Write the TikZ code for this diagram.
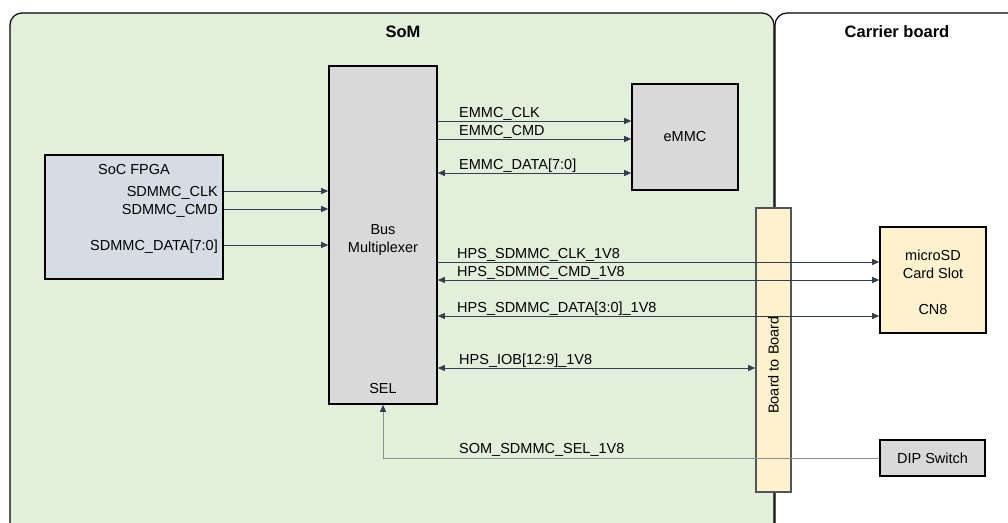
\documentclass[tikz,border=0pt]{standalone}
\usepackage{fontspec}
\setmainfont{Liberation Sans}
\usetikzlibrary{arrows.meta,positioning,calc}
\definecolor{somgreen}  {RGB}{226,239,218}
\definecolor{socblue}   {RGB}{214,220,228}
\definecolor{chipgray}  {RGB}{217,217,217}
\definecolor{slotyellow}{RGB}{255,242,204}
\definecolor{wirecol}   {RGB}{51,63,80}
\definecolor{selgray}   {RGB}{135,145,145}
\definecolor{stripedge} {RGB}{80,86,92}
\newcommand{\sigfont}{\fontsize{14.5}{18}\selectfont}
\newcommand{\ttlfont}{\fontsize{16.5}{20}\selectfont\bfseries}
\tikzset{
  chip/.style   ={draw=black, line width=1.6pt, inner sep=0pt,
                  minimum width=#1, font=\sigfont, align=center},
  chip/.default=106pt,
  socbox/.style ={chip=178pt, fill=socblue,  minimum height=124pt},
  muxbox/.style ={chip=108pt, fill=chipgray, minimum height=338pt},
  emmcbox/.style={chip, fill=chipgray,   minimum height=106pt},
  slotbox/.style={chip, fill=slotyellow, minimum height=106pt},
  dipbox/.style ={chip=105pt, fill=chipgray, minimum height=36pt},
  b2bbox/.style ={chip=35pt, draw=stripedge, fill=slotyellow,
                  minimum height=284pt},
  lbl/.style    ={font=\sigfont, inner sep=0pt, align=center},
  siglbl/.style ={lbl, anchor=base west},
  ttl/.style    ={font=\ttlfont, inner sep=0pt},
  sig/.style    ={wirecol, line width=0.8pt,
                  -{Triangle[length=7pt,width=6pt]}},
  bsig/.style   ={sig, {Triangle[length=7pt,width=6pt]}-{Triangle[length=7pt,width=6pt]}},
  selw/.style   ={selgray, line width=0.8pt,
                  -{Triangle[length=7pt,width=6pt,color=wirecol]}},
}

\begin{document}
\begin{tikzpicture}[x=1pt,y=-1pt]
  \clip (0,0) rectangle (1008,522);
  % board areas
  \fill[somgreen, rounded corners=12pt] (10,560) -- (10,13) -- (774,13) -- (774,560) -- cycle;
  \draw[line width=1.2pt, rounded corners=12pt] (10,560) -- (10,13) -- (774,13) -- (774,560);
  \draw[line width=1.2pt, rounded corners=12pt] (775,560) -- (775,13) -- (1040,13);
  \node[ttl] (som) at (403,32) {SoM};
  \node[ttl] (carrier) at (897,32) {Carrier board};

  % blocks
  \node[socbox]  (soc)  at (134,217) {};
  \node[muxbox]  (mux)  at (383,235) {};
  \node[emmcbox] (emmc) at (685,137) {eMMC};
  \node[b2bbox]  (b2b)  at (773.5,350) {};
  \node[slotbox] (sd)   at (933,280) {};
  \node[dipbox]  (dip)  at (932.5,458) {DIP Switch};

  \node[lbl, below=10pt of soc.north] (soctitle) {SoC FPGA};
  \node[lbl] (muxtitle) at (383,240) {Bus\\Multiplexer};
  \node[lbl, above=11pt of mux.south] (sel) {SEL};
  \node[lbl, rotate=90] (b2btitle) at (773.5,365) {Board to Board};
  \node[lbl] (sdtitle) at (933,264) {microSD\\Card Slot};
  \node[lbl, above=19pt of sd.south] (cn8) {CN8};

  % SoC FPGA to multiplexer
  \foreach \y/\txt in {191/SDMMC\_CLK, 209/SDMMC\_CMD, 245/SDMMC\_DATA[7:0]} {
    \node[lbl, anchor=base east] at (218,\y+5) {\txt};
    \draw[sig] (soc.east |- 0,\y) -- (mux.west |- 0,\y);
  }

  % multiplexer to eMMC
  \foreach \y/\txt/\st in {121/EMMC\_CLK/sig, 139/EMMC\_CMD/sig, 173/EMMC\_DATA[7:0]/bsig} {
    \node[siglbl] at (459,\y-4) {\txt};
    \draw[\st] (mux.east |- 0,\y) -- (emmc.west |- 0,\y);
  }

  % multiplexer to microSD slot
  \foreach \y/\txt/\st in {262/HPS\_SDMMC\_CLK\_1V8/sig, 280/HPS\_SDMMC\_CMD\_1V8/bsig,
                           316/HPS\_SDMMC\_DATA[3:0]\_1V8/bsig} {
    \node[siglbl] at (457,\y-4) {\txt};
    \draw[\st] (mux.east |- 0,\y) -- (sd.west |- 0,\y);
  }

  \node[siglbl] (ioblbl) at (459,364) {HPS\_IOB[12:9]\_1V8};
  \draw[bsig] (mux.east |- 0,368) -- (b2b.west |- 0,368);

  \node[siglbl] (sellbl) at (459,453) {SOM\_SDMMC\_SEL\_1V8};
  \draw[selw] (dip.west) -| (mux.south);
\end{tikzpicture}
\end{document}
